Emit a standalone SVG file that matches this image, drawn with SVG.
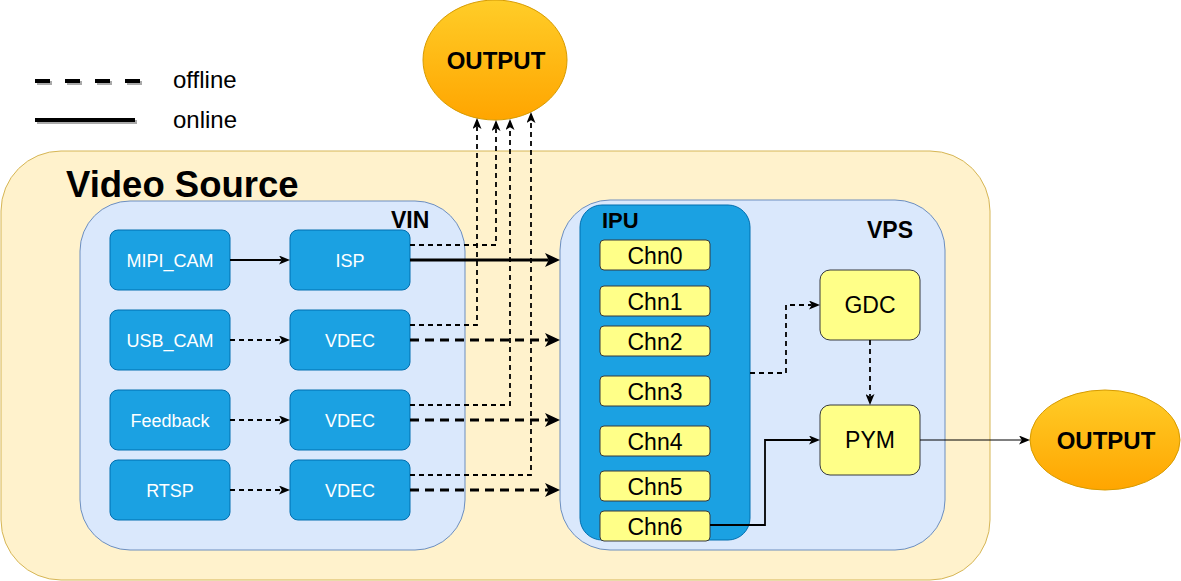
<svg xmlns="http://www.w3.org/2000/svg" width="1181" height="581" viewBox="0 0 1181 581">
<defs>
<linearGradient id="og" x1="0" y1="0" x2="0" y2="1">
<stop offset="0" stop-color="#ffcd28"/>
<stop offset="1" stop-color="#ffa500"/>
</linearGradient>
<marker id="ah" viewBox="0 0 11 9" refX="2.75" refY="4.5" markerWidth="11" markerHeight="9" markerUnits="userSpaceOnUse" orient="auto">
<path d="M0,0 L11,4.5 L0,9 L2.75,4.5 Z" fill="#000"/>
</marker>
<marker id="ahb" viewBox="0 0 15 14" refX="3.75" refY="7" markerWidth="15" markerHeight="14" markerUnits="userSpaceOnUse" orient="auto">
<path d="M0,0 L15,7 L0,14 L3.75,7 Z" fill="#000"/>
</marker>
</defs>
<style>
text{font-family:"Liberation Sans",Arial,Helvetica,sans-serif}
.cont{fill:#dae8fc;stroke:#6c8ebf;stroke-width:1}
.blue rect{fill:#1ba1e2;stroke:#006eaf;stroke-width:1}
.blue text{fill:#fff;font-size:18px;text-anchor:middle}
.yel rect{fill:#ffff88;stroke:#36393d;stroke-width:1}
.yel text{fill:#000;font-size:23px;text-anchor:middle}
.out ellipse{fill:url(#og);stroke:#d79b00;stroke-width:1}
.out text{fill:#000;font-size:24px;font-weight:bold;text-anchor:middle}
.title{font-weight:bold;fill:#000}
.thin{fill:none;stroke:#000;stroke-width:1.8}
.dash{stroke-dasharray:5 4}
.bold{fill:none;stroke:#000;stroke-width:3}
.bdash{stroke-dasharray:9 6}
</style>

<g id="legend">
<path d="M37,83 H142" stroke="#aaa" stroke-width="4" stroke-dasharray="15 15"/>
<path d="M35,81 H140" stroke="#000" stroke-width="4" stroke-dasharray="15 15"/>
<path d="M37,122 H137" stroke="#aaa" stroke-width="4"/>
<path d="M35,120 H135" stroke="#000" stroke-width="4"/>
<text x="173" y="88" font-size="24">offline</text>
<text x="173" y="128" font-size="24">online</text>
</g>

<g id="video-source">
<rect x="1" y="151" width="989" height="429" rx="60" ry="60" fill="#fff2cc" stroke="#d6b656" stroke-width="1"/>
<text class="title" x="66" y="197" font-size="36.5">Video Source</text>
</g>

<g id="vin">
<rect class="cont" x="80" y="201" width="385" height="349" rx="50" ry="50"/>
<text class="title" x="391" y="228" font-size="23">VIN</text>
</g>

<g id="vps">
<rect class="cont" x="560" y="200" width="385" height="350" rx="50" ry="50"/>
<text class="title" x="867" y="238" font-size="23">VPS</text>
</g>

<g id="ipu">
<rect x="580" y="205" width="170" height="335" rx="22" ry="22" fill="#1ba1e2" stroke="#006eaf" stroke-width="1"/>
<text class="title" x="602" y="228" font-size="22">IPU</text>
</g>

<g id="mipi-cam" class="blue"><rect x="110" y="230" width="120" height="60" rx="8"/><text x="170" y="266.5">MIPI_CAM</text></g>
<g id="isp" class="blue"><rect x="290" y="230" width="120" height="60" rx="8"/><text x="350" y="266.5">ISP</text></g>
<g id="usb-cam" class="blue"><rect x="110" y="310" width="120" height="60" rx="8"/><text x="170" y="346.5">USB_CAM</text></g>
<g id="vdec1" class="blue"><rect x="290" y="310" width="120" height="60" rx="8"/><text x="350" y="346.5">VDEC</text></g>
<g id="feedback" class="blue"><rect x="110" y="390" width="120" height="60" rx="8"/><text x="170" y="426.5">Feedback</text></g>
<g id="vdec2" class="blue"><rect x="290" y="390" width="120" height="60" rx="8"/><text x="350" y="426.5">VDEC</text></g>
<g id="rtsp" class="blue"><rect x="110" y="460" width="120" height="60" rx="8"/><text x="170" y="496.5">RTSP</text></g>
<g id="vdec3" class="blue"><rect x="290" y="460" width="120" height="60" rx="8"/><text x="350" y="496.5">VDEC</text></g>

<g id="chn0" class="yel"><rect x="600" y="240" width="110" height="30" rx="4"/><text x="655" y="263.5">Chn0</text></g>
<g id="chn1" class="yel"><rect x="600" y="286" width="110" height="30" rx="4"/><text x="655" y="309.5">Chn1</text></g>
<g id="chn2" class="yel"><rect x="600" y="326" width="110" height="30" rx="4"/><text x="655" y="349.5">Chn2</text></g>
<g id="chn3" class="yel"><rect x="600" y="376" width="110" height="30" rx="4"/><text x="655" y="399.5">Chn3</text></g>
<g id="chn4" class="yel"><rect x="600" y="426" width="110" height="30" rx="4"/><text x="655" y="449.5">Chn4</text></g>
<g id="chn5" class="yel"><rect x="600" y="471" width="110" height="30" rx="4"/><text x="655" y="494.5">Chn5</text></g>
<g id="chn6" class="yel"><rect x="600" y="511" width="110" height="30" rx="4"/><text x="655" y="534.5">Chn6</text></g>

<g id="gdc" class="yel"><rect x="820" y="270" width="100" height="70" rx="10"/><text x="870" y="313">GDC</text></g>
<g id="pym" class="yel"><rect x="820" y="405" width="100" height="70" rx="10"/><text x="870" y="448">PYM</text></g>

<g id="output-top" class="out"><ellipse cx="495" cy="60" rx="72" ry="60"/><text x="496" y="69">OUTPUT</text></g>
<g id="output-right" class="out"><ellipse cx="1105" cy="440" rx="75" ry="50"/><text x="1106" y="449">OUTPUT</text></g>

<g id="connectors">
<path class="thin" d="M230,260 H281.75" marker-end="url(#ah)"/>
<path class="thin dash" d="M230,340 H281.75" marker-end="url(#ah)"/>
<path class="thin dash" d="M230,420 H281.75" marker-end="url(#ah)"/>
<path class="thin dash" d="M230,490 H281.75" marker-end="url(#ah)"/>
<path class="bold" d="M410,260 H548.75" marker-end="url(#ahb)"/>
<path class="bold bdash" d="M410,340 H548.75" marker-end="url(#ahb)"/>
<path class="bold bdash" d="M410,420 H548.75" marker-end="url(#ahb)"/>
<path class="bold bdash" d="M410,490 H548.75" marker-end="url(#ahb)"/>
<path class="thin dash" d="M410,245 H496 V128.25" marker-end="url(#ah)"/>
<path class="thin dash" d="M410,325 H477 V126.25" marker-end="url(#ah)"/>
<path class="thin dash" d="M410,405 H510 V127.25" marker-end="url(#ah)"/>
<path class="thin dash" d="M410,475 H531 V120.25" marker-end="url(#ah)"/>
<path class="thin dash" d="M750,373 H786 V305 H811.75" marker-end="url(#ah)"/>
<path class="thin dash" d="M870,340 V396.75" marker-end="url(#ah)"/>
<path class="thin" d="M710,525 H765 V440 H811.75" stroke="#36393d" stroke-width="2" marker-end="url(#ah)"/>
<path d="M920,440 H1021.75" fill="none" stroke="#000" stroke-width="1" marker-end="url(#ah)"/>
</g>
</svg>
